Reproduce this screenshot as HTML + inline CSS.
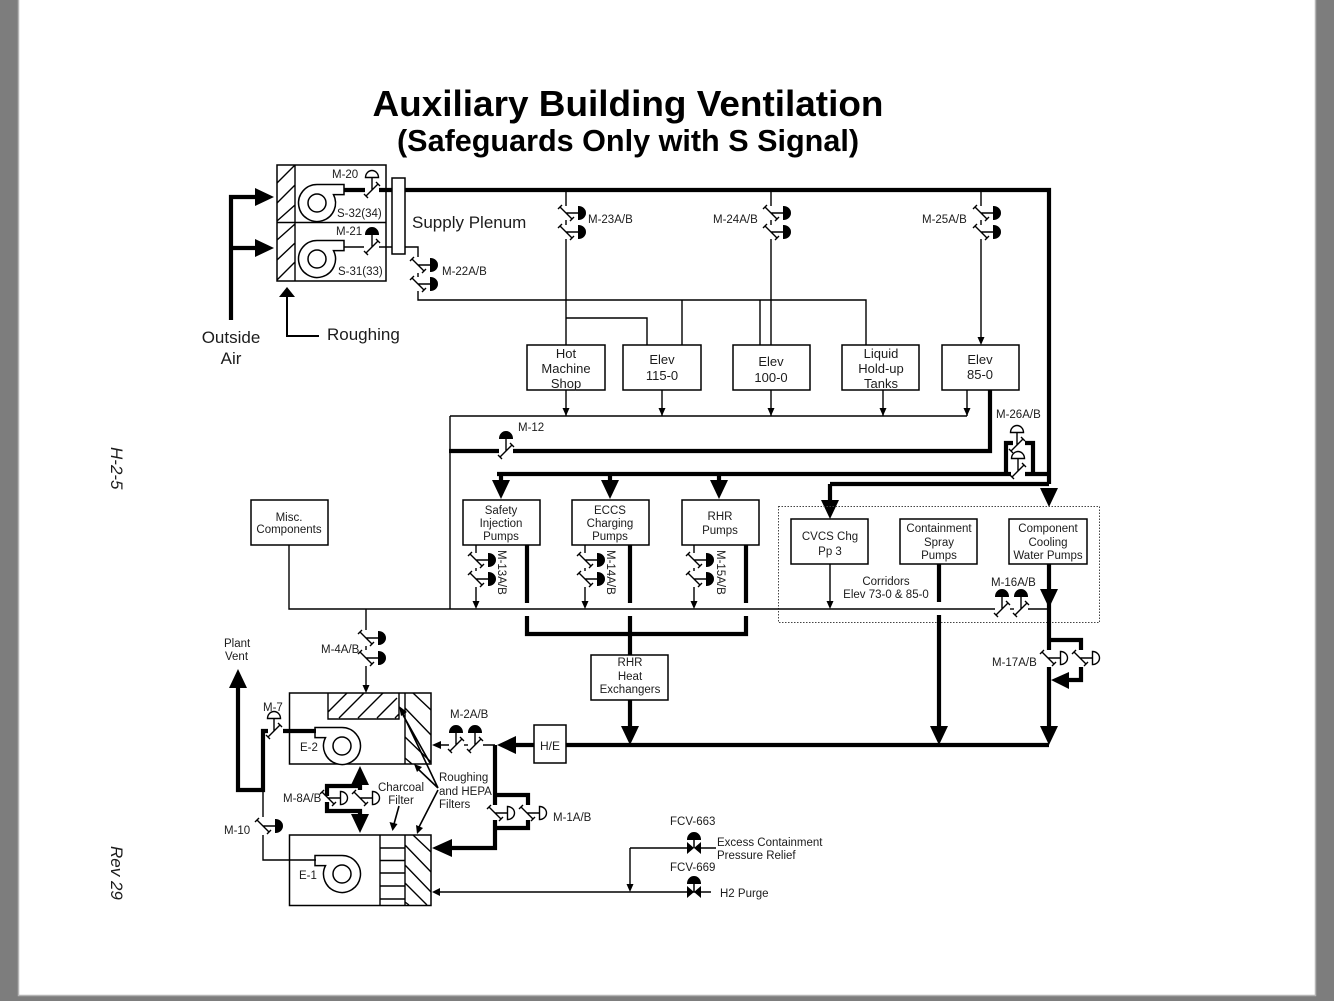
<!DOCTYPE html>
<html><head><meta charset="utf-8"><style>
html,body{margin:0;padding:0;width:1334px;height:1001px;overflow:hidden;background:#7d7d7d}
svg{display:block}
text{font-family:"Liberation Sans",sans-serif;fill:#1c1c1c;font-size:11.5px}
.b{font-size:11.5px;text-anchor:middle}
.c{font-size:13px;text-anchor:middle}
.l{font-size:17px}
.t{stroke:#000;stroke-width:1.4;fill:none}
.k{stroke:#000;stroke-width:4.2;fill:none}
.m{stroke:#000;stroke-width:1.5;fill:#fff}
</style></head><body>
<svg width="1334" height="1001" viewBox="0 0 1334 1001" xmlns="http://www.w3.org/2000/svg">
<defs>
<g id="df"><path d="M-6,-6L6,6M-8,-4L-4,-8M4,8L8,4M0,0H12.500" stroke="#000" stroke-width="1.4" fill="none"/><path d="M12.500,-6.500A7,6.500 0 0 1 12.500,6.500Z" fill="#000" stroke="#000"/></g>
<g id="do"><path d="M-6,-6L6,6M-8,-4L-4,-8M4,8L8,4M0,0H12.500" stroke="#000" stroke-width="1.4" fill="none"/><path d="M12.500,-6.500A7,6.500 0 0 1 12.500,6.500Z" fill="#fff" stroke="#000" stroke-width="1.4"/></g>
<path id="ad" d="M0,0L-9,-19H9Z" fill="#000"/>
<path id="sd" d="M0,0L-3.500,-8H3.500Z" fill="#000"/>
<g id="fan"><path d="M27,-18.500H0A18.500,18.500 0 1 0 16.500,-8.400H27Z" fill="#fff" stroke="#000" stroke-width="1.5"/><circle r="9" fill="#fff" stroke="#000" stroke-width="1.5"/></g>
<g id="vl"><path d="M-7,-6L7,6V-6L-7,6Z" fill="#000"/><path d="M0,0V-9" stroke="#000" stroke-width="1.5"/><path d="M-6.500,-8.500A6.500,7 0 0 1 6.500,-8.500Z" fill="#000" stroke="#000"/></g>
</defs>

<rect x="19" y="0" width="1296" height="995" fill="#fff"/>
<path d="M18.500,0V995.500H1315.500V0" fill="none" stroke="#b5b5b5" stroke-width="1.5"/>

<text x="628" y="116" text-anchor="middle" style="font-size:36px;font-weight:bold;fill:#000" textLength="511" lengthAdjust="spacingAndGlyphs">Auxiliary Building Ventilation</text>
<text x="628" y="151" text-anchor="middle" style="font-size:31px;font-weight:bold;fill:#000" textLength="462" lengthAdjust="spacingAndGlyphs">(Safeguards Only with S Signal)</text>

<text transform="translate(111,447) rotate(90)" style="font-size:17px;font-style:italic">H-2-5</text>
<text transform="translate(111,846) rotate(90)" style="font-size:17px;font-style:italic">Rev 29</text>

<!-- supply fans -->
<rect class="m" x="277" y="165" width="109" height="116"/>
<path class="t" d="M277,222.500H386M295,165V281M277,183L295,165M277,203L295,185M277,221L295,205M277,240L295,224M277,260L295,243M277,280L295,262"/>
<use href="#fan" x="317" y="203"/><use href="#fan" x="317" y="259"/>
<path class="k" d="M231,320V197H257M231,248H257"/>
<path d="M274,197L255,188V206Z M274,248L255,239V257Z" fill="#000"/>
<path d="M287,287L279,297H295Z" fill="#000"/>
<path d="M287,295V336H319" stroke="#000" stroke-width="2" fill="none"/>
<path class="k" d="M344,190H365M379,190H392M405,190H1049V484"/>
<path class="t" d="M344,247H364M379,247H392M405,247H418V257M418,273V277M418,291V300H866V345M418,300H760V345M682,300V345M566,190V206M566,220V225M566,239V345M566,318H647V345M771,190V206M771,220V225M771,239V345M981,190V206M981,220V225M981,239V340"/>
<rect class="m" x="392" y="178" width="13" height="76"/>
<use href="#do" transform="translate(372,190) rotate(-90)"/>
<use href="#df" transform="translate(372,247) rotate(-90)"/>
<use href="#df" x="418" y="265"/><use href="#df" x="418" y="284"/>
<use href="#df" x="566" y="213"/><use href="#df" x="566" y="232"/>
<use href="#df" x="771" y="213"/><use href="#df" x="771" y="232"/>
<use href="#df" x="981" y="213"/><use href="#df" x="981" y="232"/>
<use href="#sd" x="981" y="345"/>

<text x="332" y="178">M-20</text><text x="337" y="217">S-32(34)</text>
<text x="336" y="235">M-21</text><text x="338" y="275">S-31(33)</text>
<text x="442" y="275">M-22A/B</text>
<text x="588" y="223">M-23A/B</text><text x="713" y="223">M-24A/B</text><text x="922" y="223">M-25A/B</text>
<text class="l" x="412" y="228">Supply Plenum</text>
<text class="l" x="231" y="343" text-anchor="middle">Outside</text>
<text class="l" x="231" y="364" text-anchor="middle">Air</text>
<text class="l" x="327" y="340">Roughing</text>

<!-- zone boxes -->
<g class="m">
<rect x="527" y="345" width="78" height="45"/><rect x="623" y="345" width="78" height="45"/>
<rect x="733" y="345" width="77" height="45"/><rect x="842" y="345" width="77" height="45"/>
<rect x="942" y="345" width="77" height="45"/>
</g>
<text class="c" x="566" y="358">Hot</text><text class="c" x="566" y="373">Machine</text><text class="c" x="566" y="388">Shop</text>
<text class="c" x="662" y="364">Elev</text><text class="c" x="662" y="380">115-0</text>
<text class="c" x="771" y="366">Elev</text><text class="c" x="771" y="382">100-0</text>
<text class="c" x="881" y="358">Liquid</text><text class="c" x="881" y="373">Hold-up</text><text class="c" x="881" y="388">Tanks</text>
<text class="c" x="980" y="364">Elev</text><text class="c" x="980" y="379">85-0</text>

<path class="t" d="M566,390V416M662,390V416M771,390V416M883,390V416M967,390V416M450,416H967M450,416V609"/>
<use href="#sd" x="566" y="416"/><use href="#sd" x="662" y="416"/><use href="#sd" x="771" y="416"/><use href="#sd" x="883" y="416"/><use href="#sd" x="967" y="416"/>
<path class="k" d="M449,451H499M513,451H990V390"/>
<use href="#df" transform="translate(506,451) rotate(-90)"/>
<text x="518" y="431">M-12</text>
<text x="996" y="418">M-26A/B</text>
<path class="k" d="M497,474H1011M1025,474H1049M830,484H1049M830,484V505M501,474V485M610,474V485M719,474V485M1006,474V443H1013M1033,474V443H1025"/>
<use href="#do" transform="translate(1017,445) rotate(-90)"/>
<use href="#do" transform="translate(1018,471) rotate(-90)"/>
<use href="#ad" x="501" y="499"/><use href="#ad" x="610" y="499"/><use href="#ad" x="719" y="499"/>
<use href="#ad" x="830" y="519"/><use href="#ad" x="1049" y="507"/>

<!-- pump boxes -->
<g class="m">
<rect x="463" y="500" width="77" height="45"/><rect x="572" y="500" width="77" height="45"/><rect x="682" y="500" width="77" height="45"/>
<rect x="251" y="500" width="77" height="45"/>
<rect x="791" y="519" width="77" height="45"/><rect x="900" y="519" width="77" height="45"/><rect x="1009" y="519" width="78" height="45"/>
<rect x="591" y="655" width="77" height="45"/>
<rect x="534" y="725" width="32" height="38"/>
</g>
<rect x="778.500" y="506.500" width="321" height="116" fill="none" stroke="#444" stroke-width="1" stroke-dasharray="1.500 1.500"/>
<text class="b" x="501" y="514">Safety</text><text class="b" x="501" y="527">Injection</text><text class="b" x="501" y="540">Pumps</text>
<text class="b" x="610" y="514">ECCS</text><text class="b" x="610" y="527">Charging</text><text class="b" x="610" y="540">Pumps</text>
<text class="b" x="720" y="520">RHR</text><text class="b" x="720" y="534">Pumps</text>
<text class="b" x="289" y="521">Misc.</text><text class="b" x="289" y="533">Components</text>
<text class="b" x="830" y="540">CVCS Chg</text><text class="b" x="830" y="555">Pp 3</text>
<text class="b" x="939" y="532">Containment</text><text class="b" x="939" y="546">Spray</text><text class="b" x="939" y="559">Pumps</text>
<text class="b" x="1048" y="532">Component</text><text class="b" x="1048" y="546">Cooling</text><text class="b" x="1048" y="559">Water Pumps</text>
<text class="b" x="630" y="666">RHR</text><text class="b" x="630" y="680">Heat</text><text class="b" x="630" y="693">Exchangers</text>
<text class="b" x="886" y="585">Corridors</text><text class="b" x="886" y="598">Elev 73-0 &amp; 85-0</text>

<!-- recirc lines -->
<path class="t" d="M289,545V609H995M1028,609H1048M476,545V553M476,568V571M476,587V605M585,545V553M585,568V571M585,587V605M694,545V553M694,568V571M694,587V605M830,564V605M366,609V630M366,646V650M366,666V687"/>
<use href="#sd" x="476" y="609"/><use href="#sd" x="585" y="609"/><use href="#sd" x="694" y="609"/><use href="#sd" x="830" y="609"/>
<use href="#df" x="476" y="560"/><use href="#df" x="476" y="579"/>
<use href="#df" x="585" y="560"/><use href="#df" x="585" y="579"/>
<use href="#df" x="694" y="560"/><use href="#df" x="694" y="579"/>
<text transform="translate(498,550) rotate(90)">M-13A/B</text>
<text transform="translate(607,550) rotate(90)">M-14A/B</text>
<text transform="translate(717,550) rotate(90)">M-15A/B</text>
<path class="k" d="M527,545V603M630,545V603M746,545V603M527,616V634H746V616M630,616V655M630,700V730M939,564V602M939,615V730M566,745H1049M1049,564V650M1049,667V730M1049,640H1081V650M1081,667V680H1066"/>
<use href="#ad" x="630" y="745"/><use href="#ad" x="939" y="745"/><use href="#ad" x="1049" y="745"/><use href="#ad" x="1049" y="608"/>
<path d="M1051,680L1069,672V689Z" fill="#000"/>
<use href="#df" transform="translate(1002,609) rotate(-90)"/><use href="#df" transform="translate(1021,609) rotate(-90)"/>
<path class="t" d="M1010,609H1014"/>
<text x="991" y="586">M-16A/B</text>
<use href="#do" x="1048" y="658"/><use href="#do" x="1080" y="658"/>
<text x="992" y="666">M-17A/B</text>

<!-- exhaust units -->
<rect class="m" x="289.500" y="693" width="141.500" height="71"/>
<rect class="m" x="289.500" y="835" width="141.500" height="70.500"/>
<path class="t" d="M405,693V764M328,693V719H399V693M328,712L347,693M339,718L364,693M358,718L383,693M377,718L397,698M395,718L399,714"/>
<path class="t" d="M413,693L431,710M405,708L431,735M405,737L431,762M405,758L412,764"/>
<path class="t" d="M380,835V905.500M405,835V905.500M380,848H405M380,860.500H405M380,873H405M380,886H405M380,899H405M413,835L431,852M405,845L431,872M405,865L431,892M405,883L427,905M405,902L409,905"/>
<use href="#fan" transform="translate(342,746) scale(-1,1)"/>
<use href="#fan" transform="translate(342,874) scale(-1,1)"/>
<text x="300" y="751">E-2</text><text x="299" y="879">E-1</text>

<use href="#df" x="366" y="638"/><use href="#df" x="366" y="658"/>
<use href="#sd" x="366" y="693"/>
<text x="321" y="653">M-4A/B</text>
<text x="224" y="647">Plant</text><text x="225" y="660">Vent</text>
<path class="k" d="M238,688V790H263V731H268M283,731H316"/>
<path class="t" d="M263,790V817M263,835V860H316"/>
<path d="M238,669L229,688H247Z" fill="#000"/>
<use href="#do" transform="translate(274,731) rotate(-90)"/>
<use href="#df" x="263" y="826"/>
<text x="263" y="711">M-7</text>
<text x="224" y="834">M-10</text>

<use href="#ad" transform="translate(360,766) rotate(180)"/>
<use href="#ad" x="360" y="833"/>
<path class="k" d="M360,785V790M327,796V786H360M327,802V811H360V815"/>
<use href="#do" x="328" y="798"/><use href="#do" x="360" y="798"/>
<text x="283" y="802">M-8A/B</text>
<text class="b" x="401" y="791">Charcoal</text><text class="b" x="401" y="804">Filter</text>
<path d="M399,806L394,824" stroke="#000" stroke-width="1.600"/><path d="M392.500,831L389.500,822L397.500,824Z" fill="#000"/>
<text x="439" y="781">Roughing</text><text x="439" y="795">and HEPA</text><text x="439" y="808">Filters</text>
<path stroke="#000" stroke-width="1.600" fill="none" d="M438,788L401,710M438,788L417,768M438,790L418,829M430,763L403,715"/>
<path d="M399,706L407,712L401,716Z M414,764L422,767L417,772Z M417,834L416,825L423,828Z" fill="#000"/>

<path class="t" d="M440,745H449M483,745H495"/>
<path d="M432,745L441,741V749Z" fill="#000"/>
<use href="#df" transform="translate(456,745) rotate(-90)"/><use href="#df" transform="translate(475,745) rotate(-90)"/>
<path class="t" d="M464,745H468"/>
<text x="450" y="718">M-2A/B</text>
<path class="k" d="M516,745H534M495,745V805M495,795H528V805M528,820V828H495M495,820V848H450"/>
<path d="M497,745L516,736V754Z M432,848L452,839V857Z" fill="#000"/>
<use href="#do" x="495" y="813"/><use href="#do" x="527" y="813"/>
<text x="553" y="821">M-1A/B</text>
<text class="b" x="550" y="750" style="font-size:12px">H/E</text>

<path class="t" d="M436,892H711M700,848H716M630,848H688M630,848V886"/>
<path d="M432,892L440,888V896Z" fill="#000"/><use href="#sd" x="630" y="892"/>
<use href="#vl" x="694" y="848"/><use href="#vl" x="694" y="892"/>
<text x="670" y="825">FCV-663</text><text x="670" y="871">FCV-669</text>
<text x="717" y="846">Excess Containment</text><text x="717" y="859">Pressure Relief</text>
<text x="720" y="897">H2 Purge</text>
</svg>
</body></html>
